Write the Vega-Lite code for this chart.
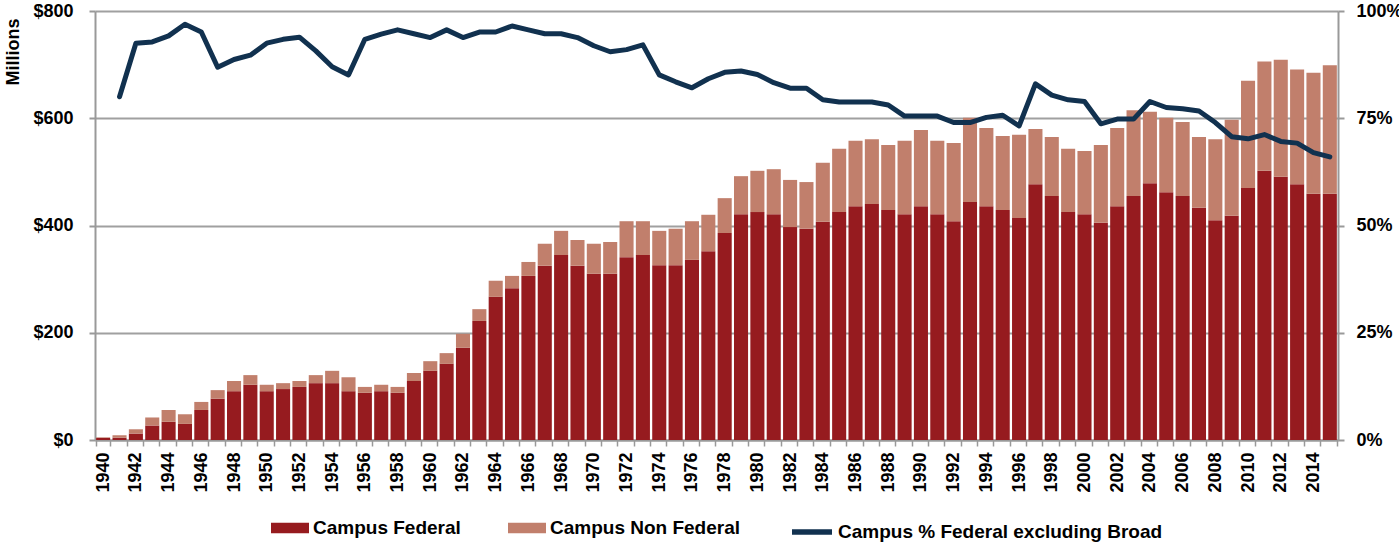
{
  "$schema": "https://vega.github.io/schema/vega-lite/v6.json",
  "width": 1243,
  "height": 429,
  "autosize": {"type": "none"},
  "padding": {"left": 95, "top": 11, "right": 61, "bottom": 103},
  "background": "white",
  "config": {
    "font": "Liberation Sans",
    "view": {"stroke": null},
    "legend": {"layout": {"bottom": {"anchor": "middle", "direction": "horizontal", "margin": 48}}},
    "axis": {"labelFont": "Liberation Sans", "labelFontWeight": "bold", "labelColor": "#000", "titleColor": "#000", "labelLimit": 0}
  },
  "datasets": {
    "bars": [
      {"year":1940,"type":"Campus Federal","value":4},{"year":1940,"type":"Campus Non Federal","value":1},
      {"year":1941,"type":"Campus Federal","value":4},{"year":1941,"type":"Campus Non Federal","value":5},
      {"year":1942,"type":"Campus Federal","value":12},{"year":1942,"type":"Campus Non Federal","value":8},
      {"year":1943,"type":"Campus Federal","value":27},{"year":1943,"type":"Campus Non Federal","value":15},
      {"year":1944,"type":"Campus Federal","value":34},{"year":1944,"type":"Campus Non Federal","value":22},
      {"year":1945,"type":"Campus Federal","value":30},{"year":1945,"type":"Campus Non Federal","value":18},
      {"year":1946,"type":"Campus Federal","value":56},{"year":1946,"type":"Campus Non Federal","value":15},
      {"year":1947,"type":"Campus Federal","value":77},{"year":1947,"type":"Campus Non Federal","value":16},
      {"year":1948,"type":"Campus Federal","value":91},{"year":1948,"type":"Campus Non Federal","value":19},
      {"year":1949,"type":"Campus Federal","value":103},{"year":1949,"type":"Campus Non Federal","value":18},
      {"year":1950,"type":"Campus Federal","value":91},{"year":1950,"type":"Campus Non Federal","value":12},
      {"year":1951,"type":"Campus Federal","value":95},{"year":1951,"type":"Campus Non Federal","value":11},
      {"year":1952,"type":"Campus Federal","value":99},{"year":1952,"type":"Campus Non Federal","value":11},
      {"year":1953,"type":"Campus Federal","value":106},{"year":1953,"type":"Campus Non Federal","value":15},
      {"year":1954,"type":"Campus Federal","value":106},{"year":1954,"type":"Campus Non Federal","value":23},
      {"year":1955,"type":"Campus Federal","value":91},{"year":1955,"type":"Campus Non Federal","value":26},
      {"year":1956,"type":"Campus Federal","value":88},{"year":1956,"type":"Campus Non Federal","value":11},
      {"year":1957,"type":"Campus Federal","value":91},{"year":1957,"type":"Campus Non Federal","value":12},
      {"year":1958,"type":"Campus Federal","value":88},{"year":1958,"type":"Campus Non Federal","value":11},
      {"year":1959,"type":"Campus Federal","value":110},{"year":1959,"type":"Campus Non Federal","value":15},
      {"year":1960,"type":"Campus Federal","value":129},{"year":1960,"type":"Campus Non Federal","value":18},
      {"year":1961,"type":"Campus Federal","value":142},{"year":1961,"type":"Campus Non Federal","value":20},
      {"year":1962,"type":"Campus Federal","value":172},{"year":1962,"type":"Campus Non Federal","value":26},
      {"year":1963,"type":"Campus Federal","value":222},{"year":1963,"type":"Campus Non Federal","value":22},
      {"year":1964,"type":"Campus Federal","value":267},{"year":1964,"type":"Campus Non Federal","value":30},
      {"year":1965,"type":"Campus Federal","value":283},{"year":1965,"type":"Campus Non Federal","value":23},
      {"year":1966,"type":"Campus Federal","value":306},{"year":1966,"type":"Campus Non Federal","value":26},
      {"year":1967,"type":"Campus Federal","value":325},{"year":1967,"type":"Campus Non Federal","value":41},
      {"year":1968,"type":"Campus Federal","value":345},{"year":1968,"type":"Campus Non Federal","value":45},
      {"year":1969,"type":"Campus Federal","value":325},{"year":1969,"type":"Campus Non Federal","value":48},
      {"year":1970,"type":"Campus Federal","value":310},{"year":1970,"type":"Campus Non Federal","value":56},
      {"year":1971,"type":"Campus Federal","value":310},{"year":1971,"type":"Campus Non Federal","value":59},
      {"year":1972,"type":"Campus Federal","value":341},{"year":1972,"type":"Campus Non Federal","value":67},
      {"year":1973,"type":"Campus Federal","value":345},{"year":1973,"type":"Campus Non Federal","value":63},
      {"year":1974,"type":"Campus Federal","value":326},{"year":1974,"type":"Campus Non Federal","value":64},
      {"year":1975,"type":"Campus Federal","value":326},{"year":1975,"type":"Campus Non Federal","value":68},
      {"year":1976,"type":"Campus Federal","value":336},{"year":1976,"type":"Campus Non Federal","value":72},
      {"year":1977,"type":"Campus Federal","value":352},{"year":1977,"type":"Campus Non Federal","value":68},
      {"year":1978,"type":"Campus Federal","value":386},{"year":1978,"type":"Campus Non Federal","value":65},
      {"year":1979,"type":"Campus Federal","value":421},{"year":1979,"type":"Campus Non Federal","value":71},
      {"year":1980,"type":"Campus Federal","value":425},{"year":1980,"type":"Campus Non Federal","value":77},
      {"year":1981,"type":"Campus Federal","value":421},{"year":1981,"type":"Campus Non Federal","value":84},
      {"year":1982,"type":"Campus Federal","value":397},{"year":1982,"type":"Campus Non Federal","value":88},
      {"year":1983,"type":"Campus Federal","value":394},{"year":1983,"type":"Campus Non Federal","value":87},
      {"year":1984,"type":"Campus Federal","value":407},{"year":1984,"type":"Campus Non Federal","value":110},
      {"year":1985,"type":"Campus Federal","value":425},{"year":1985,"type":"Campus Non Federal","value":118},
      {"year":1986,"type":"Campus Federal","value":436},{"year":1986,"type":"Campus Non Federal","value":122},
      {"year":1987,"type":"Campus Federal","value":440},{"year":1987,"type":"Campus Non Federal","value":121},
      {"year":1988,"type":"Campus Federal","value":429},{"year":1988,"type":"Campus Non Federal","value":121},
      {"year":1989,"type":"Campus Federal","value":421},{"year":1989,"type":"Campus Non Federal","value":137},
      {"year":1990,"type":"Campus Federal","value":436},{"year":1990,"type":"Campus Non Federal","value":142},
      {"year":1991,"type":"Campus Federal","value":421},{"year":1991,"type":"Campus Non Federal","value":137},
      {"year":1992,"type":"Campus Federal","value":408},{"year":1992,"type":"Campus Non Federal","value":146},
      {"year":1993,"type":"Campus Federal","value":444},{"year":1993,"type":"Campus Non Federal","value":157},
      {"year":1994,"type":"Campus Federal","value":436},{"year":1994,"type":"Campus Non Federal","value":146},
      {"year":1995,"type":"Campus Federal","value":429},{"year":1995,"type":"Campus Non Federal","value":138},
      {"year":1996,"type":"Campus Federal","value":414},{"year":1996,"type":"Campus Non Federal","value":155},
      {"year":1997,"type":"Campus Federal","value":477},{"year":1997,"type":"Campus Non Federal","value":103},
      {"year":1998,"type":"Campus Federal","value":455},{"year":1998,"type":"Campus Non Federal","value":110},
      {"year":1999,"type":"Campus Federal","value":425},{"year":1999,"type":"Campus Non Federal","value":118},
      {"year":2000,"type":"Campus Federal","value":421},{"year":2000,"type":"Campus Non Federal","value":118},
      {"year":2001,"type":"Campus Federal","value":405},{"year":2001,"type":"Campus Non Federal","value":145},
      {"year":2002,"type":"Campus Federal","value":436},{"year":2002,"type":"Campus Non Federal","value":146},
      {"year":2003,"type":"Campus Federal","value":455},{"year":2003,"type":"Campus Non Federal","value":160},
      {"year":2004,"type":"Campus Federal","value":479},{"year":2004,"type":"Campus Non Federal","value":133},
      {"year":2005,"type":"Campus Federal","value":462},{"year":2005,"type":"Campus Non Federal","value":139},
      {"year":2006,"type":"Campus Federal","value":455},{"year":2006,"type":"Campus Non Federal","value":138},
      {"year":2007,"type":"Campus Federal","value":433},{"year":2007,"type":"Campus Non Federal","value":132},
      {"year":2008,"type":"Campus Federal","value":410},{"year":2008,"type":"Campus Non Federal","value":151},
      {"year":2009,"type":"Campus Federal","value":418},{"year":2009,"type":"Campus Non Federal","value":179},
      {"year":2010,"type":"Campus Federal","value":470},{"year":2010,"type":"Campus Non Federal","value":200},
      {"year":2011,"type":"Campus Federal","value":502},{"year":2011,"type":"Campus Non Federal","value":204},
      {"year":2012,"type":"Campus Federal","value":491},{"year":2012,"type":"Campus Non Federal","value":218},
      {"year":2013,"type":"Campus Federal","value":477},{"year":2013,"type":"Campus Non Federal","value":214},
      {"year":2014,"type":"Campus Federal","value":459},{"year":2014,"type":"Campus Non Federal","value":226},
      {"year":2015,"type":"Campus Federal","value":459},{"year":2015,"type":"Campus Non Federal","value":240}
    ],
    "line": [
      {"year":1941,"pct":80.0},{"year":1942,"pct":92.5},{"year":1943,"pct":92.8},{"year":1944,"pct":94.2},
      {"year":1945,"pct":96.9},{"year":1946,"pct":95.1},{"year":1947,"pct":86.9},{"year":1948,"pct":88.7},
      {"year":1949,"pct":89.7},{"year":1950,"pct":92.5},{"year":1951,"pct":93.4},{"year":1952,"pct":93.9},
      {"year":1953,"pct":90.7},{"year":1954,"pct":87.0},{"year":1955,"pct":85.1},{"year":1956,"pct":93.4},
      {"year":1957,"pct":94.6},{"year":1958,"pct":95.6},{"year":1959,"pct":94.7},{"year":1960,"pct":93.8},
      {"year":1961,"pct":95.6},{"year":1962,"pct":93.8},{"year":1963,"pct":95.1},{"year":1964,"pct":95.1},
      {"year":1965,"pct":96.5},{"year":1966,"pct":95.6},{"year":1967,"pct":94.7},{"year":1968,"pct":94.7},
      {"year":1969,"pct":93.8},{"year":1970,"pct":91.9},{"year":1971,"pct":90.5},{"year":1972,"pct":91.0},
      {"year":1973,"pct":92.1},{"year":1974,"pct":85.1},{"year":1975,"pct":83.5},{"year":1976,"pct":82.1},
      {"year":1977,"pct":84.2},{"year":1978,"pct":85.7},{"year":1979,"pct":86.0},{"year":1980,"pct":85.2},
      {"year":1981,"pct":83.3},{"year":1982,"pct":82.0},{"year":1983,"pct":82.0},{"year":1984,"pct":79.3},
      {"year":1985,"pct":78.8},{"year":1986,"pct":78.8},{"year":1987,"pct":78.8},{"year":1988,"pct":78.1},
      {"year":1989,"pct":75.5},{"year":1990,"pct":75.5},{"year":1991,"pct":75.5},{"year":1992,"pct":74.0},
      {"year":1993,"pct":74.0},{"year":1994,"pct":75.2},{"year":1995,"pct":75.7},{"year":1996,"pct":73.2},
      {"year":1997,"pct":83.0},{"year":1998,"pct":80.4},{"year":1999,"pct":79.3},{"year":2000,"pct":78.9},
      {"year":2001,"pct":73.7},{"year":2002,"pct":74.8},{"year":2003,"pct":74.8},{"year":2004,"pct":78.9},
      {"year":2005,"pct":77.5},{"year":2006,"pct":77.2},{"year":2007,"pct":76.7},{"year":2008,"pct":74.0},
      {"year":2009,"pct":70.7},{"year":2010,"pct":70.2},{"year":2011,"pct":71.2},{"year":2012,"pct":69.6},
      {"year":2013,"pct":69.2},{"year":2014,"pct":67.0},{"year":2015,"pct":66.0}
    ]
  },
  "encoding": {
    "x": {
      "field": "year",
      "type": "ordinal",
      "scale": {"paddingInner": 0.14, "paddingOuter": 0.07},
      "axis": {
        "title": null,
        "labelAngle": -90,
        "labelFontSize": 18,
        "labelExpr": "datum.value % 2 == 0 ? datum.label : ''",
        "tickBand": "extent",
        "tickColor": "#999999",
        "tickSize": 6,
        "tickWidth": 1.5,
        "domainColor": "#999999",
        "domainWidth": 2,
        "labelPadding": 6
      }
    }
  },
  "layer": [
    {
      "data": {"name": "bars"},
      "mark": {"type": "bar"},
      "encoding": {
        "y": {
          "field": "value",
          "type": "quantitative",
          "stack": "zero",
          "scale": {"domain": [0, 800]},
          "axis": {
            "title": "Millions",
            "titleFontSize": 18,
            "titleFontWeight": "bold",
            "titleAnchor": "end",
            "titleY": 7,
            "titlePadding": 10,
            "values": [0, 200, 400, 600, 800],
            "labelExpr": "'$' + datum.value",
            "labelFontSize": 18,
            "labelPadding": 16,
            "grid": true,
            "gridColor": "#A0A0A0",
            "gridWidth": 2,
            "tickColor": "#999999",
            "tickSize": 6,
            "tickWidth": 2,
            "domainColor": "#999999",
            "domainWidth": 2
          }
        },
        "order": {"field": "type", "sort": "ascending"},
        "color": {
          "field": "type",
          "type": "nominal",
          "scale": {"domain": ["Campus Federal", "Campus Non Federal"], "range": ["#961B1F", "#C17F6C"]},
          "legend": {
            "title": null,
            "orient": "bottom",
            "direction": "horizontal",
            "labelFontSize": 19,
            "labelFontWeight": "bold",
            "labelColor": "#000",
            "labelLimit": 0,
            "symbolType": "M-1,-0.27L1,-0.27L1,0.27L-1,0.27Z",
            "symbolSize": 1444,
            "symbolStrokeWidth": 0,
            "symbolOpacity": 1,
            "columnPadding": 47,
            "labelOffset": 4,
            "offset": 16
          }
        }
      }
    },
    {
      "data": {"name": "line"},
      "mark": {"type": "line", "strokeWidth": 5, "strokeJoin": "round", "strokeCap": "round"},
      "encoding": {
        "y": {
          "field": "pct",
          "type": "quantitative",
          "scale": {"domain": [0, 100]},
          "axis": {
            "orient": "right",
            "title": null,
            "values": [0, 25, 50, 75, 100],
            "labelExpr": "datum.value + '%'",
            "labelFontSize": 18,
            "labelPadding": 12,
            "grid": false,
            "tickColor": "#999999",
            "tickSize": 6,
            "tickWidth": 2,
            "domainColor": "#999999",
            "domainWidth": 2
          }
        },
        "stroke": {
          "datum": "Campus % Federal excluding Broad",
          "type": "nominal",
          "scale": {"range": ["#11314F"]},
          "legend": {
            "title": null,
            "orient": "bottom",
            "labelFontSize": 19,
            "labelFontWeight": "bold",
            "labelColor": "#000",
            "labelLimit": 0,
            "symbolType": "stroke",
            "symbolSize": 1600,
            "symbolStrokeWidth": 5.5,
            "labelOffset": 3,
            "offset": 16
          }
        }
      }
    }
  ],
  "resolve": {"scale": {"y": "independent"}}
}
